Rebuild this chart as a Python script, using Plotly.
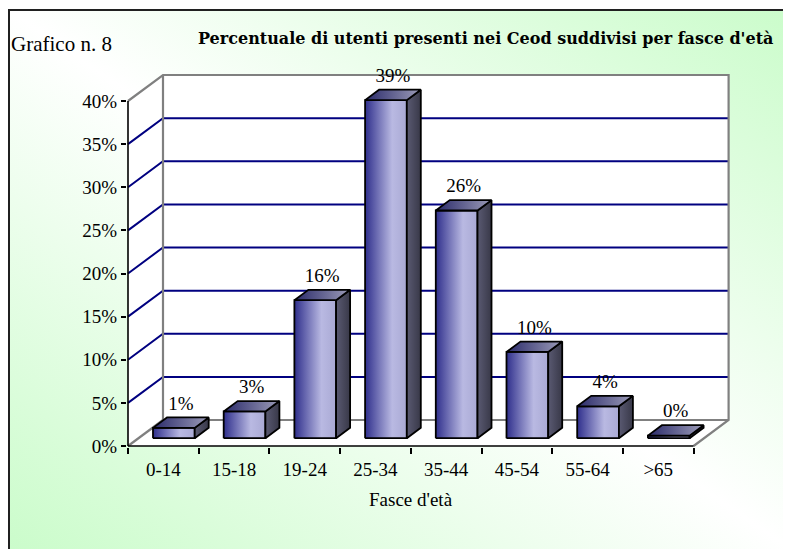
import base64
import plotly.graph_objects as go

# ---- data ----
categories = ["0-14", "15-18", "19-24", "25-34", "35-44", "45-54", "55-64", ">65"]
values = [1.2, 3.1, 16.0, 39.2, 26.4, 10.0, 3.7, 0.3]
y_ticks = [0, 5, 10, 15, 20, 25, 30, 35, 40]
y_tick_labels = [f"{v}%" for v in y_ticks]
title = "Percentuale di utenti presenti nei Ceod suddivisi per fasce d'età"
label_left = "Grafico n. 8"
x_title = "Fasce d'età"

# ---- geometry (oblique 3D projection) ----
OFF = 8                      # page body margin
WF, HF = 791 - OFF, 549 - OFF
U = 70.7          # px per category
V = 8.625         # px per percent
DX = 35 / U       # depth offset in x units
DY = 26 / V       # depth offset in y units
D0, D1 = 0.30, 0.70   # bar depth span (fraction of wall depth)
BW = 0.59         # bar width (category units)
YMAX = 40
n = len(categories)

def px(x):   # screen x -> paper
    return (x - OFF) / WF

def py(y):   # screen y -> paper
    return 1 - (y - OFF) / HF

X0S, Y0S = 128, 446          # screen position of front origin
x_px0, x_px1 = 127, 730
y_px0, y_px1 = 447, 72
x_range = [-0.5 - (X0S - x_px0) / U, -0.5 + (x_px1 - X0S) / U]
y_range = [-(y_px0 - Y0S) / V, (Y0S - y_px1) / V]

FONT = "Liberation Serif"

fig = go.Figure()

def poly(xs, ys, **kw):
    fig.add_trace(go.Scatter(x=list(xs) + [xs[0]], y=list(ys) + [ys[0]], mode="lines",
                             fill="toself", hoverinfo="skip", showlegend=False, **kw))

xl, xr = -0.5, n - 0.5
# walls and floor (white)
poly([xl + DX, xr + DX, xr + DX, xl + DX], [DY, DY, YMAX + DY, YMAX + DY],
     fillcolor="white", line=dict(width=0, color="white"))
poly([xl, xl + DX, xl + DX, xl], [0, DY, YMAX + DY, YMAX],
     fillcolor="white", line=dict(width=0, color="white"))
poly([xl, xr, xr + DX, xl + DX], [0, 0, DY, DY],
     fillcolor="white", line=dict(width=0, color="white"))

# gridlines (navy) on back wall and left wall
gx, gy = [], []
for v in y_ticks[1:-1]:
    gx += [xl, xl + DX, xr + DX, None]
    gy += [v, v + DY, v + DY, None]
fig.add_trace(go.Scatter(x=gx, y=gy, mode="lines", line=dict(color="#000080", width=2),
                         hoverinfo="skip", showlegend=False))

# wall edges (gray)
ex = [xl, xl + DX, xr + DX, xr + DX, xr, None,
      xl + DX, xl + DX, xr + DX, None,
      xl, xl + DX]
ey = [YMAX, YMAX + DY, YMAX + DY, DY, 0, None,
      YMAX + DY, DY, DY, None,
      0, DY]
fig.add_trace(go.Scatter(x=ex, y=ey, mode="lines", line=dict(color="#808080", width=2.2),
                         hoverinfo="skip", showlegend=False))

# bars
front_cs = [[0, "#2f2f8c"], [0.65, "#b9b9e2"], [1, "#a9a9d4"]]
top_cs = [[0, "#2a2a6a"], [1, "#9c9cb8"]]
side_cs = [[0, "#5a5a72"], [1, "#383848"]]
edge = dict(color="black", width=1.8)
for i, v in enumerate(values):
    x0 = i - BW / 2 + D0 * DX
    x1 = i + BW / 2 + D0 * DX
    y0 = D0 * DY
    y1 = v + D0 * DY
    ddx = (D1 - D0) * DX
    ddy = (D1 - D0) * DY
    poly([x0, x1, x1, x0], [y0, y0, y1, y1], line=edge,
         fillgradient=dict(type="horizontal", colorscale=front_cs))
    poly([x1, x1 + ddx, x1 + ddx, x1], [y0, y0 + ddy, y1 + ddy, y1], line=edge,
         fillgradient=dict(type="horizontal", colorscale=side_cs))
    poly([x0, x1, x1 + ddx, x0 + ddx], [y1, y1, y1 + ddy, y1 + ddy], line=edge,
         fillgradient=dict(type="horizontal", colorscale=top_cs))

# data labels
fig.add_trace(go.Scatter(
    x=[i + 0.5 * DX for i in range(n)],
    y=[v + D1 * DY + 3 / V for v in values],
    text=[f"{round(v)}%" for v in values],
    mode="text", textposition="top center",
    textfont=dict(family=FONT, size=19, color="black"),
    cliponaxis=False, hoverinfo="skip", showlegend=False))

# front axis lines (black)
fig.add_trace(go.Scatter(x=[xl, xl, None, xl, xr], y=[YMAX, 0, None, 0, 0], mode="lines",
                         line=dict(color="black", width=1.6), hoverinfo="skip", showlegend=False))

# ---- background gradient ----
svg = ('<svg xmlns="http://www.w3.org/2000/svg" width="100" height="100" preserveAspectRatio="none">'
       '<defs><linearGradient id="g" x1="0" y1="1" x2="1" y2="0">'
       '<stop offset="0" stop-color="#c8fcc8"/><stop offset="0.5" stop-color="#ffffff"/>'
       '<stop offset="1" stop-color="#c8fcc8"/></linearGradient></defs>'
       '<rect width="100" height="100" fill="url(#g)"/></svg>')
src = "data:image/svg+xml;base64," + base64.b64encode(svg.encode()).decode()

fx0, fy0 = px(9), py(10)
fig.update_layout(
    width=WF, height=HF,
    margin=dict(l=0, r=0, t=0, b=0, pad=0, autoexpand=False),
    paper_bgcolor="white", plot_bgcolor="rgba(0,0,0,0)",
    showlegend=False,
    images=[dict(source=src, xref="paper", yref="paper", x=fx0, y=fy0,
                 sizex=1.05 - fx0, sizey=fy0 + 0.05, xanchor="left", yanchor="top",
                 sizing="stretch", layer="below")],
    shapes=[dict(type="rect", xref="paper", yref="paper", x0=fx0, y0=-0.05, x1=1.05, y1=fy0,
                 line=dict(color="#202020", width=2), layer="above")],
    xaxis=dict(domain=[px(x_px0), px(x_px1)], range=x_range, showgrid=False, zeroline=False,
               showline=False, automargin=False, tickmode="array", tickvals=list(range(n)),
               ticktext=categories, ticks="", tickfont=dict(family=FONT, size=19, color="black"),
               ticklabelstandoff=9,
               minor=dict(tickmode="array", tickvals=[i - 0.5 for i in range(n + 1)],
                          ticks="outside", ticklen=6, tickwidth=1.5, tickcolor="black"),
               fixedrange=True),
    yaxis=dict(domain=[py(y_px0), py(y_px1)], range=y_range, showgrid=False,
               zeroline=False, showline=False, automargin=False, tickmode="array",
               tickvals=y_ticks, ticktext=y_tick_labels, ticks="outside", ticklen=5,
               tickwidth=1.5, tickcolor="black",
               tickfont=dict(family=FONT, size=19, color="black"), fixedrange=True),
    annotations=[
        dict(text=label_left, xref="paper", yref="paper", x=px(9), y=py(44),
             xanchor="left", yanchor="middle", showarrow=False,
             font=dict(family=FONT, size=21, color="black")),
        dict(text="<b>" + title + "</b>", xref="paper", yref="paper", x=px(196), y=py(38),
             xanchor="left", yanchor="middle", showarrow=False,
             font=dict(family="DejaVu Serif", size=16, color="black")),
        dict(text=x_title, xref="x", yref="paper", x=(n - 1) / 2, y=py(499),
             xanchor="center", yanchor="middle", showarrow=False,
             font=dict(family=FONT, size=19, color="black")),
    ],
)

fig.write_html("out.html")
